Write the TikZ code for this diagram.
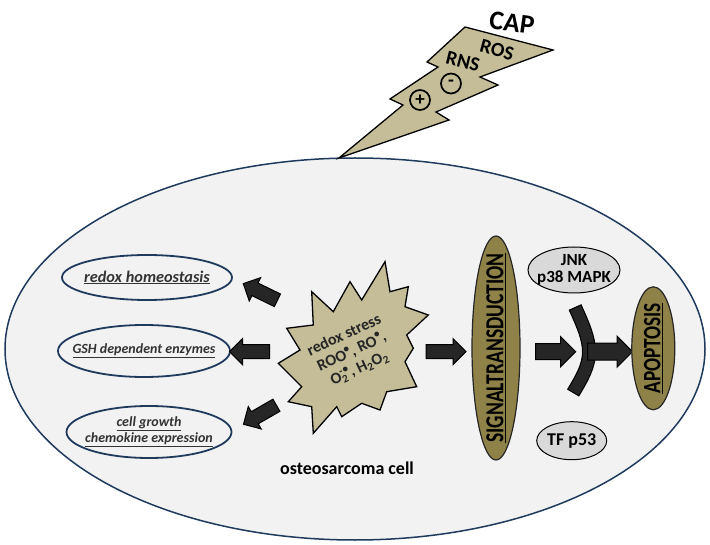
\documentclass[tikz,border=0pt]{standalone}
\usepackage{fontspec}
\setmainfont{Carlito}
\usetikzlibrary{shapes.geometric,shapes.arrows}
\definecolor{bgc}{HTML}{F2F2F2}
\definecolor{navy}{HTML}{1F3A5C}
\definecolor{khaki}{HTML}{C4BD97}
\definecolor{olivec}{HTML}{8F8248}
\definecolor{greyc}{HTML}{D9D9D9}
\definecolor{arrowc}{HTML}{262626}
\definecolor{txtc}{HTML}{333333}
\newcommand{\fs}[1]{\fontsize{#1pt}{1.2\dimexpr #1pt\relax}\selectfont}
\begin{document}
\begin{tikzpicture}[x=1pt,y=-1pt,
  cellbox/.style={ellipse, draw=navy, line width=1.5, fill=bgc, inner sep=0},
  leftell/.style={ellipse, draw=navy, line width=1.8, inner sep=0},
  lefttext/.style={font=\bfseries\itshape\fs{14}, text=txtc, align=center, inner sep=0},
  greyell/.style={ellipse, draw=black, line width=1, fill=greyc, inner sep=0},
  oliveell/.style={ellipse, draw=black!85, line width=1.2, fill=olivec, inner sep=0},
  blockarr/.style={single arrow, draw=black, fill=arrowc, line width=1,
     inner xsep=0, inner ysep=6.5, single arrow head extend=6,
     single arrow tip angle=90, minimum height=#1},
  boltpath/.style={fill=khaki, draw=black, line width=1.3, line join=miter},
  pm/.style={circle, draw=black, line width=1.7, minimum size=20, inner sep=0, font=\bfseries\fs{19}}
]
\useasboundingbox (0,0) rectangle (710,545);

% cell
\node[cellbox, minimum width=700, minimum height=382] (cell) at (355,349) {};

% lightning bolt
\filldraw[boltpath] (339,158) -- (403,105) -- (390,99) -- (438,67) -- (427,62) -- (465,27)
  -- (553,50) -- (480,77) -- (498,85) -- (436,112) -- (449,120) -- cycle;
\node[font=\bfseries\fs{27}, rotate=-8, inner sep=0] (cap) at (512,23) {CAP};
\node[font=\bfseries\fs{20}, rotate=-15, inner sep=0] (ros) at (497,50) {ROS};
\node[font=\bfseries\fs{20}, rotate=-14, inner sep=0] (rns) at (463,61.5) {RNS};
\node[pm] (plus) at (420,100) {+};
\node[pm] (minus) at (451,83.5) {-};

% left ellipses
\node[leftell, minimum width=170, minimum height=45] (rh) at (147,277.5) {};
\node[lefttext, font=\bfseries\itshape\fs{16.3}] (rht) at (rh) {\underline{redox homeostasis}};
\node[leftell, minimum width=172, minimum height=52] (gsh) at (144,351) {};
\node[lefttext, font=\bfseries\itshape\fs{14}] (gsht) at (gsh) {\underline{GSH dependent enzymes}};
\node[leftell, minimum width=165, minimum height=52] (cg) at (149,432) {};
\node[lefttext, font=\bfseries\itshape\fs{14}] (cgt) at (cg)
  {\underline{cell growth}\\[-1pt]\underline{chemokine expression}};

% star
\filldraw[boltpath] (385,261.7) -- (390,291.7) -- (408.3,286.7) -- (405,306.7) -- (428.3,315)
  -- (406.7,335) -- (413.3,348.3) -- (405,361.7) -- (416.7,386.7) -- (386.7,391.7)
  -- (380,410) -- (361.7,403.3) -- (341.7,416.7) -- (336.7,406.7) -- (313.3,433.3)
  -- (311.7,406.7) -- (288.3,401.7) -- (301.7,386.7) -- (278.3,363.3) -- (300,350)
  -- (286.7,328.3) -- (313.3,325) -- (311.7,291.7) -- (333.3,311.7) -- (350,281.7)
  -- (361.7,300) -- cycle;
\node[font=\bfseries\fs{16}, text=arrowc, rotate=25, align=center, inner sep=0] (stress) at (352,352)
  {redox stress\\[-1pt]
   ROO\textsuperscript{•}, RO\textsuperscript{•},\\[-1pt]
   O\rlap{\textsubscript{2}}\textsuperscript{-}\textsuperscript{•}, H\textsubscript{2}O\textsubscript{2}};

% arrows from star
\node[blockarr=38, rotate=154] (a1) at (263.5,293.5) {};
\node[blockarr=40, rotate=180] (a2) at (253,351.7) {};
\node[blockarr=38, rotate=210] (a3) at (263,413) {};
\node[blockarr=40] (a4) at (442.5,351.7) {};

% signal transduction
\node[oliveell, minimum width=48, minimum height=224] (sig) at (496,348) {};
\node[rotate=90, font=\bfseries\fs{26}, inner sep=0] (sigt) at (sig)
  {\scalebox{0.75}[1]{\underline{SIGNALTRANSDUCTION}}};

% JNK and p53
\node[greyell, minimum width=92, minimum height=46] (jnk) at (574,270) {};
\node[font=\bfseries\fs{17}, align=center, inner sep=0] (jnkt) at (jnk) {JNK\\[-4pt]p38 MAPK};
\node[greyell, minimum width=70, minimum height=38] (p53) at (571.7,440.7) {};
\node[font=\bfseries\fs{18}, inner sep=0] (p53t) at (p53) {TF p53};

% arrow into fork
\node[blockarr=40, inner ysep=7.5, single arrow head extend=7] (a5) at (551.7,351.7) {};

% fork band
\coordinate (bt) at (575,307);
\coordinate (bm) at (589,352);
\coordinate (bb) at (573,393);
\draw[line width=14, black] (bt) .. controls (583,325) and (589,338) .. (bm)
  .. controls (589,366) and (582,378) .. (bb);
\draw[line width=11.6, arrowc, shorten <=1.2, shorten >=1.2] (bt) .. controls (583,325) and (589,338) .. (bm)
  .. controls (589,366) and (582,378) .. (bb);

% arrow to apoptosis
\node[blockarr=45, inner ysep=8, single arrow head extend=7] (a6) at (605.8,351.7) {};

% apoptosis
\node[oliveell, minimum width=43, minimum height=123] (apo) at (653.3,348.3) {};
\node[rotate=90, font=\bfseries\fs{25}, inner sep=0] (apot) at (apo)
  {\scalebox{0.77}[1]{\underline{APOPTOSIS}}};

% cell label
\node[font=\bfseries\fs{18}, inner sep=0] (osl) at (347,468) {osteosarcoma cell};
\end{tikzpicture}
\end{document}
